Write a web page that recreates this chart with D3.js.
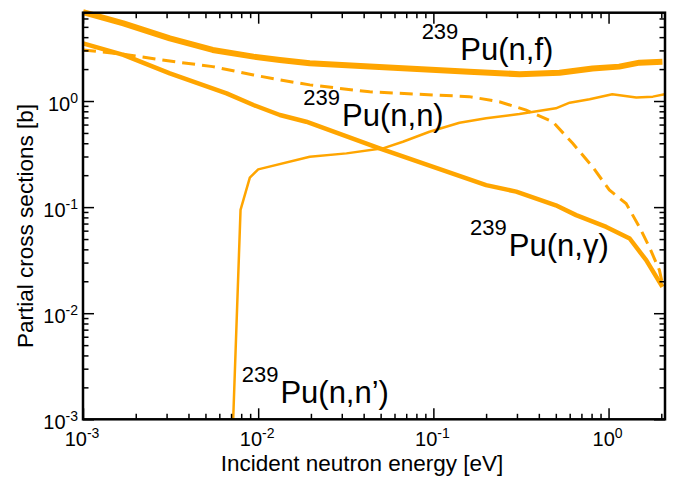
<!DOCTYPE html>
<html>
<head>
<meta charset="utf-8">
<title>Pu-239 partial cross sections</title>
<script src="https://d3js.org/d3.v7.min.js"></script>
<style>
  body { margin: 0; background: #fff; }
  svg text { font-family: "Liberation Sans", Arial, Helvetica, sans-serif; fill: #000; }
</style>
</head>
<body>
<svg id="chart"></svg>
<script>

// data (energy in eV, cross section in barns)
let fissionE   = [0.001, 0.0017, 0.00313, 0.0055, 0.0094, 0.0133, 0.0197, 0.0433, 0.16, 0.31, 0.525, 0.81, 1.15, 1.5, 2.03];
let fissionXS  = [6.9, 5.4, 3.9, 3.03, 2.62, 2.44, 2.27, 2.11, 1.89, 1.79, 1.85, 2.03, 2.11, 2.3, 2.35];

let captureE   = [0.001, 0.0017, 0.00313, 0.0066, 0.0094, 0.0133, 0.0188, 0.0493, 0.2, 0.297, 0.5, 0.653, 0.97, 1.32, 1.64, 2.03];
let captureXS  = [3.5, 2.72, 1.82, 1.18, 0.917, 0.738, 0.638, 0.358, 0.161, 0.14, 0.104, 0.084, 0.065, 0.0506, 0.0316, 0.0177];

let elasticE   = [0.001, 0.0017, 0.00313, 0.0055, 0.0094, 0.0133, 0.0197, 0.0433, 0.16, 0.238, 0.339, 0.48, 0.624, 0.81, 1.01, 1.26, 1.5, 1.71, 1.95, 2.03];
let elasticXS  = [3.03, 2.76, 2.38, 2.11, 1.76, 1.58, 1.42, 1.22, 1.1, 0.985, 0.82, 0.638, 0.399, 0.24, 0.145, 0.108, 0.065, 0.042, 0.0255, 0.019];

let inelE      = [0.0072, 0.00793, 0.00896, 0.01, 0.0197, 0.0319, 0.0516, 0.067, 0.095, 0.141, 0.2, 0.31, 0.5, 0.6, 0.78, 1.05, 1.44, 1.79, 2.09];
let inelXS     = [0.001, 0.094, 0.19, 0.227, 0.298, 0.321, 0.358, 0.413, 0.513, 0.624, 0.687, 0.754, 0.853, 0.964, 1.04, 1.16, 1.08, 1.1, 1.16];

// tick decades (exponents) for each axis
let xDecades = [-3, -2, -1, 0];
let yDecades = [-3, -2, -1, 0];

// curve labels
let labelNames = ['Pu(n,f)', 'Pu(n,n)', 'Pu(n,\u03b3)', 'Pu(n,n\u2019)'];
let labelMass = '239';

let orange = '#ffa500';

let config = {
  'svg': { width: 685, height: 477 },
  'plot': { left: 83, right: 665, top: 12.7, bottom: 419.3 }
};

let svg = d3.select('#chart')
  .attr('width', config.svg.width)
  .attr('height', config.svg.height);

let x = d3.scaleLog().domain([0.001, 2.1]).range([config.plot.left, config.plot.right]);
let y = d3.scaleLog().domain([0.001, 6.8]).range([config.plot.bottom, config.plot.top]);

// major and minor tick values inside the domain
let xMajor = xDecades.map(e => Math.pow(10, e));
let yMajor = yDecades.map(e => Math.pow(10, e));
function minors(decades, domain) {
  let out = [];
  decades.forEach(function(e) {
    for (let k = 2; k <= 9; k++) {
      let v = k * Math.pow(10, e);
      if (v > domain[0] && v <= domain[1]) out.push(v);
    }
  });
  return out;
}
let xMinor = minors(xDecades, x.domain());
let yMinor = minors(yDecades, y.domain());

// curves
let line = d3.line().x(d => x(d[0])).y(d => y(d[1]));
function pairs(es, vs) { return es.map((e, i) => [e, vs[i]]); }

let curves = svg.append('g').attr('id', 'curves');

curves.append('path')
  .datum(pairs(inelE, inelXS))
  .attr('fill', 'none').attr('stroke', orange).attr('stroke-width', 2.5)
  .attr('stroke-linejoin', 'round')
  .attr('d', line);

curves.append('path')
  .datum(pairs(elasticE, elasticXS))
  .attr('fill', 'none').attr('stroke', orange).attr('stroke-width', 3)
  .attr('stroke-dasharray', '13,7')
  .attr('d', line);

curves.append('path')
  .datum(pairs(captureE, captureXS))
  .attr('fill', 'none').attr('stroke', orange).attr('stroke-width', 4.5)
  .attr('stroke-linejoin', 'round')
  .attr('d', line);

curves.append('path')
  .datum(pairs(fissionE, fissionXS))
  .attr('fill', 'none').attr('stroke', orange).attr('stroke-width', 6)
  .attr('stroke-linejoin', 'round')
  .attr('d', line);

// axes: ticks pointing inward on all four sides
function tickAxis(axis, values, size) {
  return axis.tickValues(values).tickSize(-size).tickFormat('');
}
let axes = svg.append('g').attr('id', 'axes');
let pl = config.plot;
axes.append('g').attr('transform', translate(0, pl.bottom)).call(tickAxis(d3.axisBottom(x), xMajor, 11));
axes.append('g').attr('transform', translate(0, pl.bottom)).call(tickAxis(d3.axisBottom(x), xMinor, 5.5));
axes.append('g').attr('transform', translate(0, pl.top)).call(tickAxis(d3.axisTop(x), xMajor, 11));
axes.append('g').attr('transform', translate(0, pl.top)).call(tickAxis(d3.axisTop(x), xMinor, 5.5));
axes.append('g').attr('transform', translate(pl.left, 0)).call(tickAxis(d3.axisLeft(y), yMajor, 11));
axes.append('g').attr('transform', translate(pl.left, 0)).call(tickAxis(d3.axisLeft(y), yMinor, 5.5));
axes.append('g').attr('transform', translate(pl.right, 0)).call(tickAxis(d3.axisRight(y), yMajor, 11));
axes.append('g').attr('transform', translate(pl.right, 0)).call(tickAxis(d3.axisRight(y), yMinor, 5.5));
axes.selectAll('.domain').remove();
axes.selectAll('.tick line').attr('stroke', '#000').attr('stroke-width', 1.5);

// frame
svg.append('rect')
  .attr('x', pl.left).attr('y', pl.top)
  .attr('width', pl.right - pl.left).attr('height', pl.bottom - pl.top)
  .attr('fill', 'none').attr('stroke', '#000').attr('stroke-width', 2.5);

// tick labels as 10 with a superscript exponent
function powerLabel(g, e) {
  g.append('tspan').attr('font-size', 20).text('10');
  g.append('tspan').attr('font-size', 14).attr('dy', -8).text(e < 0 ? '-' + (-e) : String(e));
}
xDecades.forEach(function(e) {
  let t = svg.append('text')
    .attr('x', x(Math.pow(10, e)) - 1).attr('y', pl.bottom + 27)
    .attr('text-anchor', 'middle');
  powerLabel(t, e);
});
yDecades.forEach(function(e) {
  let t = svg.append('text')
    .attr('x', 78).attr('y', y(Math.pow(10, e)) + 10)
    .attr('text-anchor', 'end');
  powerLabel(t, e);
});

// axis titles
svg.append('text')
  .attr('x', 362).attr('y', 471)
  .attr('text-anchor', 'middle').attr('font-size', 22.5)
  .text('Incident neutron energy [eV]');
svg.append('text')
  .attr('transform', translate(33, 226) + ' rotate(-90)')
  .attr('text-anchor', 'middle').attr('font-size', 22.5)
  .text('Partial cross sections [b]');

// curve labels, placed at an energy and a pixel baseline
let labelPos = [[0.0857, 60], [0.0181, 126], [0.162, 256], [0.00805, 402.7]];
labelNames.forEach(function(name, i) {
  let t = svg.append('text')
    .attr('x', x(labelPos[i][0])).attr('y', labelPos[i][1]);
  t.append('tspan').attr('font-size', 22).attr('dy', -21).text(labelMass);
  t.append('tspan').attr('font-size', 31).attr('dy', 21).attr('dx', 2).text(name);
});

// helper method to make translating easier
function translate(x, y) {
  return 'translate(' + x + ',' + y + ')';
}

</script>
</body>
</html>
